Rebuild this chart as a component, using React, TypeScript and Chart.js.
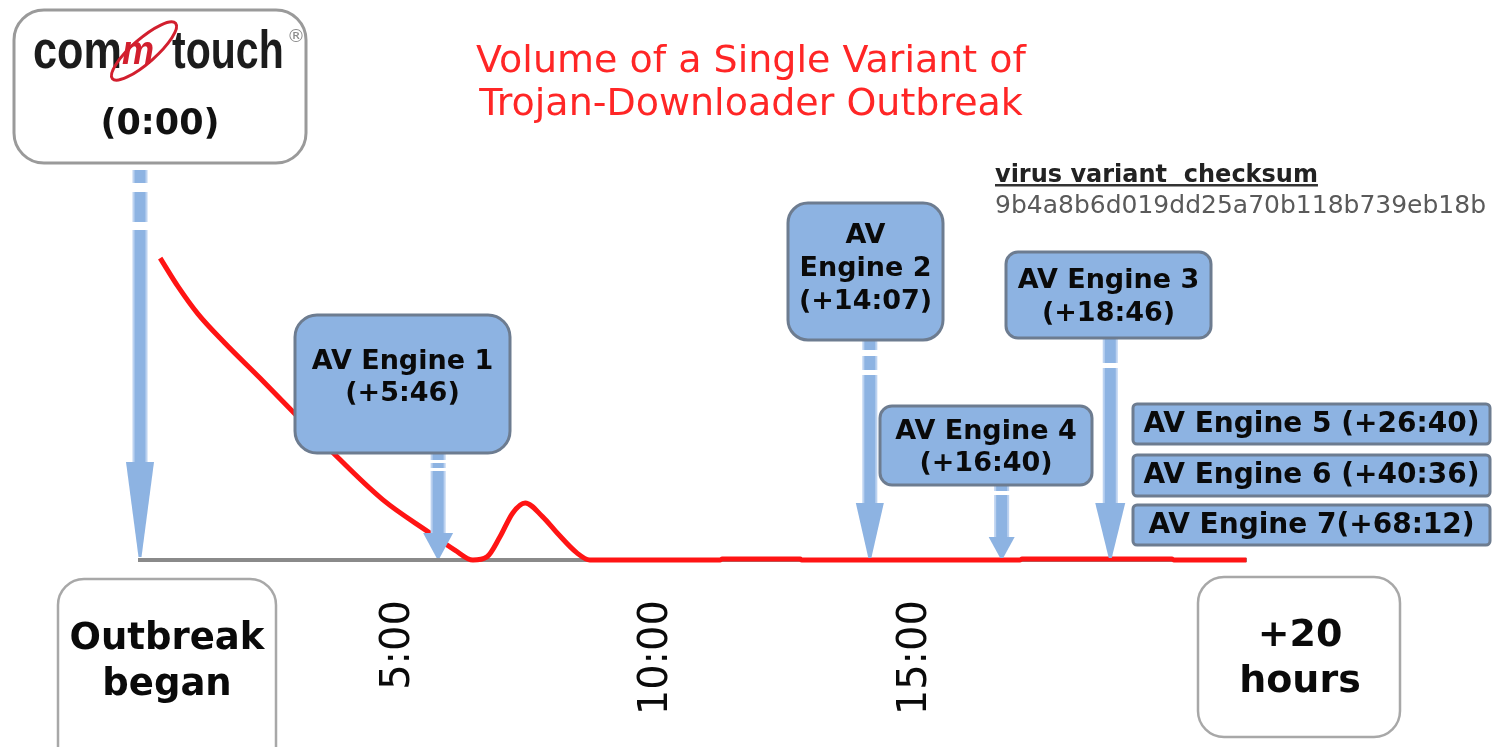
import React, { useEffect, useRef } from 'react';
import { Chart, registerables } from 'chart.js';

Chart.register(...registerables);

// ---- data ----
const hours = [0.39, 0.74, 1.12, 1.64, 2.32, 3.0, 3.68, 4.7, 5.61, 6.09, 6.44, 6.71, 6.96, 7.21, 7.45, 7.79, 8.07, 8.45, 8.7, 11.22, 11.26, 12.77, 12.8, 17.02, 17.06, 19.96, 20.0, 21.4];
const volume = [97.4, 88.1, 79.4, 70.0, 58.7, 47.1, 35.5, 19.4, 8.7, 3.2, 0, 1.0, 7.4, 15.2, 18.4, 13.9, 8.7, 2.3, 0, 0, 0.3, 0.3, 0, 0, 0.3, 0.3, 0, 0];
const tickHours = [5, 10, 15];
const tickLabels = ['5:00', '10:00', '15:00'];
const engineNames = ['AV Engine 1', 'AV Engine 2', 'AV Engine 3', 'AV Engine 4', 'AV Engine 5', 'AV Engine 6', 'AV Engine 7'];
const engineDelays = ['+5:46', '+14:07', '+18:46', '+16:40', '+26:40', '+40:36', '+68:12'];
const engineHours = [5 + 46 / 60, 14 + 7 / 60, 18 + 46 / 60, 16 + 40 / 60, 26 + 40 / 60, 40 + 36 / 60, 68 + 12 / 60];
const titleLines = ['Volume of a Single Variant of', 'Trojan-Downloader Outbreak'];
const checksumLabel = 'virus variant  checksum';
const checksumValue = '9b4a8b6d019dd25a70b118b739eb18b';
const startLabel = ['Outbreak', 'began'];
const endLabel = ['+20', 'hours'];
const originLabel = '(0:00)';
const X_MAX = 21.4;

const FONT = '"DejaVu Sans", Verdana, sans-serif';
const BLUE = '#8db3e2';
const BLUE_EDGE = '#bcd2f0';
const BOX_STROKE = '#6d7c90';

function rr(ctx: CanvasRenderingContext2D, x: number, y: number, w: number, h: number, r: number) {
  ctx.beginPath();
  ctx.moveTo(x + r, y);
  ctx.lineTo(x + w - r, y);
  ctx.arcTo(x + w, y, x + w, y + r, r);
  ctx.lineTo(x + w, y + h - r);
  ctx.arcTo(x + w, y + h, x + w - r, y + h, r);
  ctx.lineTo(x + r, y + h);
  ctx.arcTo(x, y + h, x, y + h - r, r);
  ctx.lineTo(x, y + r);
  ctx.arcTo(x, y, x + r, y, r);
  ctx.closePath();
}

function box(ctx: CanvasRenderingContext2D, x: number, y: number, w: number, h: number, r: number, fill: string, stroke: string, lw: number) {
  rr(ctx, x, y, w, h, r);
  ctx.fillStyle = fill;
  ctx.fill();
  ctx.lineWidth = lw;
  ctx.strokeStyle = stroke;
  ctx.stroke();
}

function texts(ctx: CanvasRenderingContext2D, lines: string[], cx: number, ys: number[], font: string, color: string) {
  ctx.font = font;
  ctx.fillStyle = color;
  ctx.textAlign = 'center';
  ctx.textBaseline = 'middle';
  lines.forEach((t, i) => ctx.fillText(t, cx, ys[i]));
}

function arrow(ctx: CanvasRenderingContext2D, x: number, top: number, headTop: number, tip: number, headW: number, gaps: number[][]) {
  const sw = 11;
  ctx.fillStyle = BLUE_EDGE;
  ctx.fillRect(x - sw / 2 - 2, top, sw + 4, headTop - top + 1);
  ctx.fillStyle = BLUE;
  ctx.fillRect(x - sw / 2, top, sw, headTop - top + 1);
  ctx.fillStyle = '#ffffff';
  gaps.forEach(([a, b]) => ctx.fillRect(x - sw / 2 - 3, a, sw + 6, b - a));
  ctx.beginPath();
  ctx.moveTo(x - headW / 2, headTop);
  ctx.lineTo(x + headW / 2, headTop);
  ctx.lineTo(x + 1.5, tip);
  ctx.lineTo(x - 1.5, tip);
  ctx.closePath();
  ctx.fillStyle = BLUE;
  ctx.fill();
}

const infographic = {
  id: 'infographic',
  afterDraw(chart: any) {
    const ctx: CanvasRenderingContext2D = chart.ctx;
    const xs = chart.scales.x;
    const ys = chart.scales.y;
    const px = (h: number) => xs.getPixelForValue(h);
    const base = ys.getPixelForValue(0);
    ctx.save();

    // title
    texts(ctx, [titleLines[0]], 751, [62], `38px ${FONT}`, '#ff2626');
    texts(ctx, [titleLines[1]], 751, [105], `38px ${FONT}`, '#ff2626');

    // checksum
    ctx.textAlign = 'left';
    ctx.textBaseline = 'alphabetic';
    ctx.font = `bold 24px ${FONT}`;
    ctx.fillStyle = '#222';
    ctx.fillText(checksumLabel, 995, 182);
    const cw = ctx.measureText(checksumLabel).width;
    ctx.fillStyle = '#333';
    ctx.fillRect(995, 184, cw, 2.5);
    ctx.font = `25px ${FONT}`;
    ctx.fillStyle = '#5a5a5a';
    ctx.fillText(checksumValue, 995, 213);

    // logo box
    box(ctx, 14, 10, 292, 153, 30, '#ffffff', '#9a9a9a', 3);
    ctx.textBaseline = 'alphabetic';
    ctx.textAlign = 'left';
    ctx.font = `bold 54px "Liberation Sans", Arial, sans-serif`;
    ctx.fillStyle = '#1c1c1c';
    ctx.save();
    ctx.translate(33, 68);
    ctx.scale(0.8, 1);
    ctx.fillText('com', 0, 0);
    ctx.restore();
    ctx.save();
    ctx.translate(172, 68);
    ctx.scale(0.76, 1);
    ctx.fillText('touch', 0, 0);
    ctx.restore();
    // red swoosh m
    ctx.save();
    ctx.strokeStyle = '#d21f2e';
    ctx.lineWidth = 3;
    ctx.beginPath();
    ctx.ellipse(144, 51, 42, 12, -0.72, 0, Math.PI * 2);
    ctx.stroke();
    ctx.translate(122, 64);
    ctx.scale(0.9, 1);
    ctx.font = `italic bold 40px "Liberation Sans", Arial, sans-serif`;
    ctx.fillStyle = '#d21f2e';
    ctx.fillText('m', 0, 0);
    ctx.restore();
    ctx.font = `18px ${FONT}`;
    ctx.fillStyle = '#8a8a8a';
    ctx.textAlign = 'center';
    ctx.textBaseline = 'middle';
    ctx.fillText('\u00AE', 296, 37);
    texts(ctx, [originLabel], 160, [125], `bold 35px ${FONT}`, '#111');

    // origin arrow
    arrow(ctx, px(0), 170, 462, base - 3, 28, [[183, 192], [222, 230]]);

    // engine arrows (engines within the time axis)
    const arrowSpec: Record<number, { top: number; headTop: number; headW: number; gaps: number[][] }> = {
      0: { top: 453, headTop: 533, headW: 30, gaps: [[460, 463], [468, 471]] },
      1: { top: 340, headTop: 503, headW: 28, gaps: [[350, 356], [370, 375]] },
      2: { top: 339, headTop: 503, headW: 30, gaps: [[363, 368]] },
      3: { top: 486, headTop: 537, headW: 26, gaps: [[491, 495]] },
    };
    engineHours.forEach((h, i) => {
      const s = arrowSpec[i];
      if (!s || h > X_MAX) return;
      arrow(ctx, px(h), s.top, s.headTop, base - 2, s.headW, s.gaps);
    });

    // engine boxes
    const lbl = (i: number, sep: string) => `${engineNames[i]}${sep}(${engineDelays[i]})`;
    const boxes = [
      { x: 295, y: 315, w: 215, h: 138, r: 22, lines: [engineNames[0], `(${engineDelays[0]})`], ly: [362, 394], fs: 27 },
      { x: 788, y: 203, w: 155, h: 137, r: 20, lines: [engineNames[1].slice(0, 2), engineNames[1].slice(3), `(${engineDelays[1]})`], ly: [236, 269, 302], fs: 27 },
      { x: 1006, y: 252, w: 205, h: 86, r: 12, lines: [engineNames[2], `(${engineDelays[2]})`], ly: [281, 314], fs: 27 },
      { x: 880, y: 406, w: 212, h: 79, r: 12, lines: [engineNames[3], `(${engineDelays[3]})`], ly: [432, 464], fs: 27 },
      { x: 1133, y: 404, w: 357, h: 40, r: 4, lines: [lbl(4, ' ')], ly: [425], fs: 28 },
      { x: 1133, y: 455, w: 357, h: 41, r: 4, lines: [lbl(5, ' ')], ly: [476], fs: 28 },
      { x: 1133, y: 505, w: 357, h: 40, r: 4, lines: [lbl(6, '')], ly: [526], fs: 28 },
    ];
    boxes.forEach((b) => {
      box(ctx, b.x, b.y, b.w, b.h, b.r, BLUE, BOX_STROKE, 3);
      texts(ctx, b.lines, b.x + b.w / 2, b.ly, `bold ${b.fs}px ${FONT}`, '#0a0a0a');
    });

    // start / end boxes
    box(ctx, 58, 579, 218, 220, 26, '#ffffff', '#a8a8a8', 2.5);
    texts(ctx, startLabel, 167, [639, 685], `bold 37px ${FONT}`, '#0a0a0a');
    box(ctx, 1198, 577, 202, 160, 26, '#ffffff', '#a8a8a8', 2.5);
    texts(ctx, endLabel, 1300, [636, 682], `bold 38px ${FONT}`, '#0a0a0a');

    ctx.restore();
  },
};

export default function App() {
  const ref = useRef<HTMLCanvasElement>(null);
  useEffect(() => {
    document.body.style.margin = '0';
    const chart = new Chart(ref.current as HTMLCanvasElement, {
      type: 'line',
      data: {
        datasets: [
          {
            data: hours.map((h, i) => ({ x: h, y: volume[i] })),
            borderColor: '#ff1414',
            borderWidth: 5,
            pointRadius: 0,
            cubicInterpolationMode: 'monotone',
            fill: false,
            clip: false as any,
          },
        ],
      },
      options: {
        responsive: false,
        animation: false,
        layout: { padding: { left: 140, right: 1497 - (140 + X_MAX * 51.7), top: 250, bottom: 0 } },
        plugins: { legend: { display: false }, tooltip: { enabled: false }, title: { display: false } },
        events: [],
        scales: {
          x: {
            type: 'linear',
            min: 0,
            max: X_MAX,
            grid: { display: false, drawTicks: false },
            border: { display: true, color: '#8a8a8a', width: 4 },
            afterBuildTicks: (axis: any) => {
              axis.ticks = tickHours.map((v) => ({ value: v }));
            },
            afterFit: (axis: any) => {
              axis.height = 187;
            },
            ticks: {
              autoSkip: false,
              minRotation: 90,
              maxRotation: 90,
              padding: 40,
              color: '#0a0a0a',
              font: { family: 'DejaVu Sans', size: 40 },
              callback: (v: any) => tickLabels[tickHours.indexOf(Number(v))] ?? '',
            },
          },
          y: { type: 'linear', min: 0, max: 100, display: false },
        },
      },
      plugins: [infographic],
    });
    return () => chart.destroy();
  }, []);
  return (
    <div style={{ position: 'absolute', left: 0, top: 0, width: 1497, height: 747, background: '#fff' }}>
      <canvas ref={ref} width={1497} height={747} style={{ display: 'block' }} />
    </div>
  );
}
